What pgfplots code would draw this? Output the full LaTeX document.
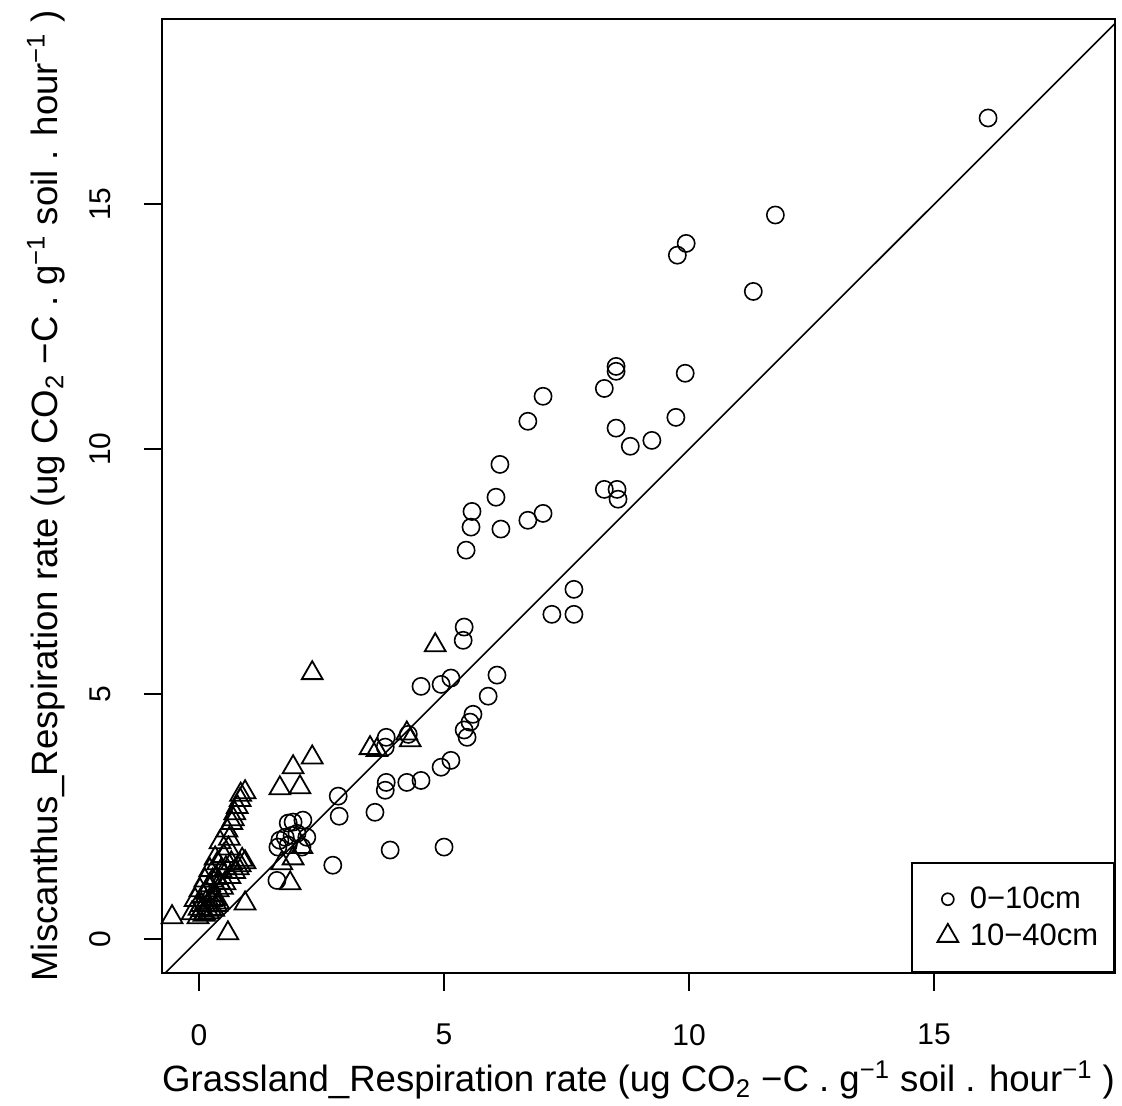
\documentclass[border=0pt]{standalone}
\usepackage{pgfplots}
\pgfplotsset{compat=1.18}
\usepackage{fontspec}
\setmainfont{Liberation Sans}

% respiration, 0-10cm layer
\pgfplotstableread{
x y
16.10 16.76
11.76 14.78
9.94 14.20
9.76 13.96
11.31 13.22
8.51 11.69
8.51 11.59
8.27 11.24
9.92 11.55
7.02 11.08
6.71 10.57
8.51 10.43
9.73 10.65
9.24 10.18
8.80 10.06
6.14 9.69
6.06 9.02
8.27 9.18
8.53 9.18
8.55 8.98
5.57 8.73
5.55 8.41
5.45 7.94
6.16 8.37
6.71 8.55
7.02 8.69
7.65 7.14
7.20 6.63
7.65 6.63
5.41 6.37
5.39 6.10
4.53 5.16
4.94 5.20
5.14 5.33
6.08 5.39
5.90 4.96
5.59 4.59
5.53 4.43
5.41 4.27
5.47 4.12
5.14 3.65
4.94 3.51
4.53 3.24
4.24 3.20
3.82 3.20
3.80 3.04
3.59 2.59
3.90 1.82
5.00 1.88
3.82 4.12
3.80 3.92
4.27 4.18
1.82 2.37
2.12 2.43
1.92 2.39
1.65 2.02
1.76 2.08
1.90 2.12
2.00 2.16
2.20 2.08
1.61 1.88
1.82 1.92
2.10 1.88
1.59 1.20
2.84 2.92
2.86 2.51
2.73 1.51
}\shallow

% respiration, 10-40cm layer
\pgfplotstableread{
x y
4.82 6.00
2.31 5.43
2.31 3.71
1.92 3.51
2.06 3.10
1.65 3.08
3.49 3.90
3.63 3.86
4.31 4.06
4.24 4.20
1.86 1.14
1.69 1.55
1.92 1.65
2.10 1.88
-0.55 0.45
0.59 0.12
0.94 0.73
0.94 3.00
0.84 2.84
0.73 2.57
0.67 2.37
0.57 2.22
0.43 1.98
0.33 1.65
0.22 1.41
0.12 1.20
0.02 1.00
-0.08 0.80
-0.14 0.53
0.94 1.57
0.84 1.51
0.73 1.37
0.63 1.27
0.53 1.14
0.39 1.00
0.29 0.90
0.18 0.69
0.06 0.59
-0.02 0.45
0.39 -0.85
0.10 0.50
0.20 0.55
0.30 0.60
0.25 0.80
0.15 0.95
0.35 1.25
0.45 1.40
0.50 1.70
0.60 1.85
0.85 2.95
0.78 2.70
0.40 0.75
0.05 0.70
0.00 0.62
0.08 0.88
0.14 0.75
0.22 1.10
0.28 1.20
0.32 0.82
0.38 1.55
0.42 1.15
0.48 1.05
0.55 1.45
0.62 2.05
0.66 1.55
0.70 2.45
0.80 1.45
0.88 1.62
0.12 0.52
0.24 0.62
0.36 0.70
}\deep

\begin{document}
\begin{tikzpicture}
\begin{axis}[
  width=476.5pt, height=477pt,
  scale only axis,
  xmin=-0.755, xmax=18.69,
  ymin=-0.69, ymax=18.78,
  xtick={0,5,10,15}, ytick={0,5,10,15},
  tick pos=left,
  tick align=outside,
  major tick length=9pt,
  axis line style={line width=0.8pt},
  every tick/.style={black, line width=0.8pt},
  /pgf/number format/assume math mode=true,
  ticklabel style={font=\fontsize{15}{17}\selectfont},
  xticklabel style={yshift=-13pt},
  yticklabel style={rotate=90, anchor=south, yshift=13pt},
  xlabel={Grassland\_Respiration rate (ug CO\textsubscript{2} −C . g\textsuperscript{−1} soil . hour\textsuperscript{−1} )},
  ylabel={Miscanthus\_Respiration rate (ug CO\textsubscript{2} −C . g\textsuperscript{−1} soil . hour\textsuperscript{−1} )},
  label style={font=\fontsize{18.3}{20}\selectfont},
  xlabel style={at={(axis description cs:0.5,0)}, anchor=center, yshift=-53.5pt},
  ylabel style={at={(axis description cs:0,0.5)}, anchor=center, yshift=58pt},
  legend style={at={(1,0)}, anchor=south east, draw=black, line width=0.8pt,
    font=\fontsize{15.5}{17}\selectfont, inner xsep=6pt, inner ysep=10pt,
    row sep=2pt, cells={anchor=west},
    /tikz/every even column/.append style={column sep=4pt}},
  legend cell align=left,
  legend image code/.code={%
    \path (-0.1cm,0cm) (0.6cm,0cm);
    \draw[mark repeat=2, mark phase=2, #1] plot coordinates {(0cm,0cm) (0.3cm,0cm) (0.6cm,0cm)};},
]
  \addplot[only marks, mark=o, mark size=4.3pt, line width=0.8pt, black,
    legend image post style={mark size=3pt}] table[x=x, y=y] {\shallow};
  \addplot[only marks, mark=triangle, mark size=6pt, line width=0.9pt, black] table[x=x, y=y] {\deep};
  \addplot[black, line width=0.8pt, forget plot] coordinates {(-1,-1) (20,20)};
  \legend{0−10cm, 10−40cm}
  \coordinate (bl) at (rel axis cs:0,0);
  \coordinate (tr) at (rel axis cs:1,1);
\end{axis}
\path (bl) ++(-81pt,-64pt);
\path (tr) ++(3.5pt,9.5pt);
\end{tikzpicture}
\end{document}
